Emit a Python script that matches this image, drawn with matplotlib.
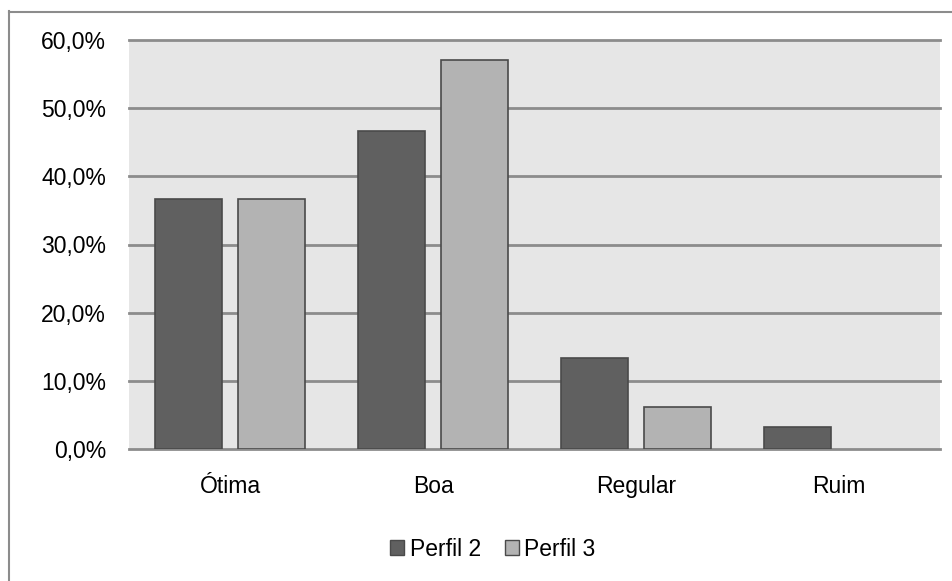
import matplotlib

matplotlib.use('Agg')
import numpy as np
import matplotlib.pyplot as plt
from matplotlib.lines import Line2D

plt.rcParams['font.family'] = ['Liberation Sans', 'DejaVu Sans']

categories = ['Ótima', 'Boa', 'Regular', 'Ruim']
perfil2 = [36.7, 46.7, 13.3, 3.3]
perfil3 = [36.7, 57.1, 6.1, 0.0]
series_names = ['Perfil 2', 'Perfil 3']
yticks = [0, 10, 20, 30, 40, 50, 60]

COLORS = ['#606060', '#b3b3b3']
EDGE = '#4a4a4a'
GRID = '#8c8c8c'
FS = 16.5

fig = plt.figure(figsize=(9.53, 5.81), dpi=100)
ax = fig.add_axes([129 / 953, 1 - 449 / 581, 811 / 953, 409 / 581])
ax.set_facecolor('#e6e6e6')

x = np.arange(len(categories))
w = 0.33
off = 0.205
for vals, dx, c in [(perfil2, -off, COLORS[0]), (perfil3, off, COLORS[1])]:
    lw = [1.2 if v > 0 else 0 for v in vals]
    ax.bar(x + dx, vals, w, color=c, edgecolor=EDGE, linewidth=lw, zorder=3)

ax.set_xlim(-0.5, len(categories) - 0.5)
ax.set_ylim(0, 60)
ax.set_yticks(yticks)
ax.set_yticklabels(['%d,0%%' % t for t in yticks])
ax.set_xticks(x)
ax.set_xticklabels(categories)
for t in yticks:
    ax.axhline(t, color=GRID, linewidth=2, zorder=2, clip_on=False)
ax.tick_params(length=0, labelsize=FS, colors='black')
ax.tick_params(axis='y', pad=16.5)
ax.tick_params(axis='x', pad=19)
for s in ax.spines.values():
    s.set_visible(False)

handles = [plt.Rectangle((0, 0), 1, 1, facecolor=c, edgecolor=EDGE, linewidth=1) for c in COLORS]
fig.legend(handles, series_names, loc='center', bbox_to_anchor=(493 / 953, 1 - 549 / 581),
           ncol=2, frameon=False, fontsize=FS, handlelength=0.6, handleheight=0.6,
           handletextpad=0.25, columnspacing=1.05)

# outer chart frame (left and top edges)
fig.add_artist(Line2D([9.5 / 953, 9.5 / 953], [0, 1 - 11 / 581], transform=fig.transFigure,
                      color='#8c8c8c', linewidth=1.5))
fig.add_artist(Line2D([9 / 953, 1], [1 - 11.5 / 581, 1 - 11.5 / 581], transform=fig.transFigure,
                      color='#8c8c8c', linewidth=1.5))

fig.savefig('out.png', dpi=100)
